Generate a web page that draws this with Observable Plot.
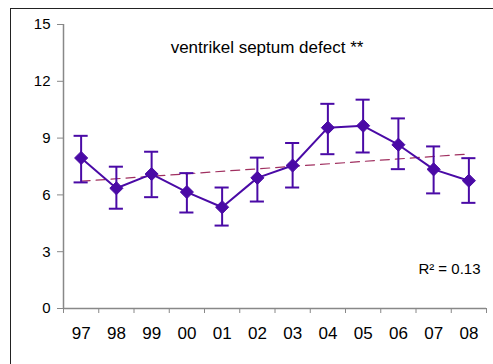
<!DOCTYPE html>
<html>
<head>
<meta charset="utf-8">
<script src="https://cdn.jsdelivr.net/npm/d3@7"></script>
<script src="https://cdn.jsdelivr.net/npm/@observablehq/plot@0.6"></script>
<style>
  html, body { margin: 0; padding: 0; background: #fff; overflow: hidden; }
  #wrap { position: relative; width: 493px; height: 364px; }
  #border { position: absolute; left: 10px; top: 8px; width: 500px; height: 400px; border: 1px solid #222; box-sizing: border-box; }
  #chart { position: absolute; left: 0; top: 0; }
</style>
</head>
<body>
<div id="wrap"><div id="border"></div><div id="chart"></div></div>
<script>
const years = ["97","98","99","00","01","02","03","04","05","06","07","08"];
const values = [7.95, 6.35, 7.1, 6.15, 5.35, 6.9, 7.55, 9.55, 9.65, 8.65, 7.35, 6.75];
const lower  = [6.66, 5.27, 5.88, 5.07, 4.38, 5.65, 6.39, 8.15, 8.24, 7.36, 6.08, 5.58];
const upper  = [9.12, 7.49, 8.28, 7.15, 6.39, 7.97, 8.74, 10.81, 11.03, 10.04, 8.56, 7.94];
const yTicks = [0, 3, 6, 9, 12, 15];
const title = "ventrikel septum defect **";
const r2Label = "R² = 0.13";

const data = years.map((y, i) => ({i: i + 0.5, year: y, v: values[i], lo: lower[i], hi: upper[i]}));
const series = "#4a0aa6";
const trend = "#a03060";
const font = "'Liberation Sans', Arial, sans-serif";

const chart = Plot.plot({
  width: 493,
  height: 364,
  marginLeft: 63,
  marginRight: 7,
  marginTop: 24,
  marginBottom: 56,
  style: {fontFamily: font, background: "transparent", overflow: "visible"},
  x: {type: "linear", domain: [0, years.length], label: null},
  y: {domain: [0, 15], label: null},
  marks: [
    Plot.axisY({ticks: yTicks, tickSize: 6, tickPadding: 7, stroke: "#888", fontSize: 15, fill: "#000", label: null}),
    Plot.axisX({ticks: d3.range(0, years.length + 1), tickFormat: () => "", tickSize: 5, stroke: "#888", label: null}),
    Plot.axisX({ticks: data.map(d => d.i), tickFormat: (d) => years[Math.floor(d)], tickSize: 0, tickPadding: 18, fontSize: 17, fill: "#000", label: null}),
    Plot.ruleX([0], {stroke: "#888", strokeWidth: 1.5}),
    Plot.ruleY([0], {stroke: "#888", strokeWidth: 1.5}),
    Plot.linearRegressionY(data, {x: "i", y: "v", stroke: trend, strokeWidth: 1.2, strokeDasharray: "9,6", ci: 0}),
    Plot.ruleX(data, {x: "i", y1: "lo", y2: "hi", stroke: series, strokeWidth: 2}),
    Plot.ruleY(data, {y: "lo", x1: d => d.i - 0.2, x2: d => d.i + 0.2, stroke: series, strokeWidth: 2}),
    Plot.ruleY(data, {y: "hi", x1: d => d.i - 0.2, x2: d => d.i + 0.2, stroke: series, strokeWidth: 2}),
    Plot.line(data, {x: "i", y: "v", stroke: series, strokeWidth: 2}),
    Plot.dot(data, {x: "i", y: "v", symbol: "diamond2", r: 5.9, fill: series, stroke: series, strokeWidth: 1}),
    Plot.text([title], {frameAnchor: "top", text: d => d, dx: -8, dy: 16, fontSize: 17, fill: "#000", letterSpacing: "-0.2px"}),
    Plot.text([r2Label], {frameAnchor: "bottom-right", text: d => d, textAnchor: "end", dx: -6, dy: -35, fontSize: 15, fill: "#000", letterSpacing: "-0.5px"})
  ]
});
document.getElementById("chart").appendChild(chart);
</script>
</body>
</html>
